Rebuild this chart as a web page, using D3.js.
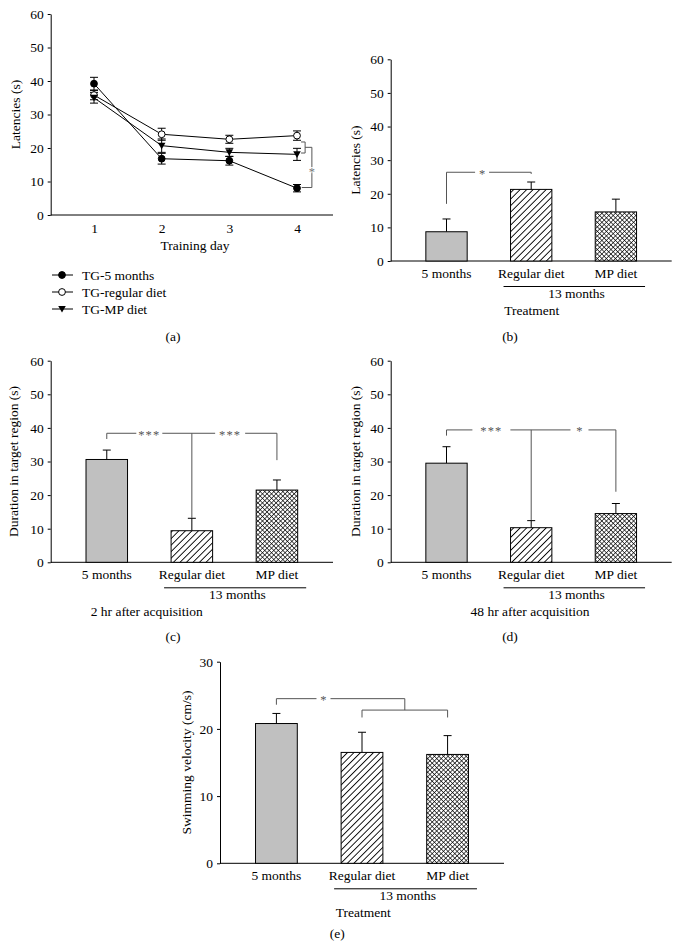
<!DOCTYPE html>
<html>
<head>
<meta charset="utf-8">
<script src="https://cdn.jsdelivr.net/npm/d3@7"></script>
<style>
  html, body { margin: 0; padding: 0; background: #fff; }
  svg { display: block; }
</style>
</head>
<body>
<svg id="chart" width="680" height="952"></svg>
<script>
// ---------------- DATA ----------------
const days = [1, 2, 3, 4];
const seriesNames = ["TG-5 months", "TG-regular diet", "TG-MP diet"];
const tg5Mean = [39.2, 16.8, 16.2, 8.0];
const tg5Err = [1.9, 1.6, 1.3, 1.1];
const tgRegMean = [35.8, 24.1, 22.6, 23.7];
const tgRegErr = [1.4, 1.8, 1.2, 1.4];
const tgMPMean = [35.0, 20.7, 18.7, 18.1];
const tgMPErr = [1.6, 2.0, 1.2, 1.8];

const groups = ["5 months", "Regular diet", "MP diet"];
const latencyMean = [8.7, 21.3, 14.6];
const latencyErr = [3.8, 2.2, 3.8];
const dur2hMean = [30.6, 9.4, 21.5];
const dur2hErr = [2.8, 3.7, 3.0];
const dur48hMean = [29.5, 10.3, 14.5];
const dur48hErr = [4.9, 2.1, 3.0];
const velocityMean = [20.8, 16.5, 16.2];
const velocityErr = [1.5, 3.0, 2.8];

const ticks60 = [0, 10, 20, 30, 40, 50, 60];
const ticks30 = [0, 10, 20, 30];

// ---------------- STYLE ----------------
const FONT = "'Liberation Serif', 'Times New Roman', serif";
const FS = 13.5;
const SIG = "#555";

const svg = d3.select("#chart");
svg.append("rect").attr("width", 680).attr("height", 952).attr("fill", "#fff");

const defs = svg.append("defs");
const hatch = defs.append("pattern").attr("id", "hatch")
  .attr("patternUnits", "userSpaceOnUse").attr("width", 4.6).attr("height", 4.6)
  .attr("patternTransform", "rotate(45)");
hatch.append("rect").attr("width", 4.6).attr("height", 4.6).attr("fill", "#fff");
hatch.append("line").attr("x1", 0).attr("y1", 0).attr("x2", 0).attr("y2", 4.6)
  .attr("stroke", "#000").attr("stroke-width", 1.8);
const cross = defs.append("pattern").attr("id", "cross")
  .attr("patternUnits", "userSpaceOnUse").attr("width", 3.2).attr("height", 3.2)
  .attr("patternTransform", "rotate(45)");
cross.append("rect").attr("width", 3.2).attr("height", 3.2).attr("fill", "#fff");
cross.append("line").attr("x1", 0).attr("y1", 0).attr("x2", 0).attr("y2", 3.2)
  .attr("stroke", "#000").attr("stroke-width", 1.3);
cross.append("line").attr("x1", 0).attr("y1", 0).attr("x2", 3.2).attr("y2", 0)
  .attr("stroke", "#000").attr("stroke-width", 1.3);
const fills = ["#c0c0c0", "url(#hatch)", "url(#cross)"];

function txt(g, x, y, s, anchor, size) {
  return g.append("text").attr("x", x).attr("y", y).text(s)
    .attr("font-family", FONT).attr("font-size", size || FS)
    .attr("text-anchor", anchor || "middle").attr("fill", "#000");
}

function yAxis(g, y, x0, tickVals) {
  const ax = d3.axisLeft(y).tickValues(tickVals).tickSize(3).tickSizeOuter(0).tickPadding(4);
  const a = g.append("g").attr("transform", `translate(${x0},0)`).call(ax);
  a.selectAll("text").attr("font-family", FONT).attr("font-size", FS).attr("fill", "#000");
  a.selectAll("line").attr("stroke", "#000");
  a.select(".domain").attr("stroke", "#000");
  return a;
}

function star(g, x, y, s, half, color) {
  g.append("rect").attr("x", x - half).attr("y", y - 3).attr("width", half * 2).attr("height", 6).attr("fill", "#fff");
  g.append("text").attr("x", x).attr("y", y + 5.5).text(s)
    .attr("font-family", FONT).attr("font-size", 12.5).attr("letter-spacing", s.length > 1 ? 1.2 : 0)
    .attr("text-anchor", "middle").attr("fill", color || SIG);
}

// ---------------- PANEL (a): line chart ----------------
(function () {
  const g = svg.append("g");
  const y = d3.scaleLinear().domain([0, 60]).range([215, 14]);
  const x = d3.scaleLinear().domain([1, 4]).range([94, 297]);
  const x0 = 50.7, x1 = 333;
  yAxis(g, y, x0, ticks60);
  g.append("line").attr("x1", x0).attr("x2", x1).attr("y1", y(0)).attr("y2", y(0)).attr("stroke", "#000");
  const xa = g.append("g").attr("transform", `translate(0,${y(0)})`)
    .call(d3.axisBottom(x).tickValues(days).tickSize(0).tickPadding(8).tickFormat(d3.format("d")));
  xa.select(".domain").remove();
  xa.selectAll("text").attr("font-family", FONT).attr("font-size", FS).attr("fill", "#000");

  const series = [
    { m: tg5Mean, e: tg5Err, shape: "filled" },
    { m: tgRegMean, e: tgRegErr, shape: "open" },
    { m: tgMPMean, e: tgMPErr, shape: "tri" }
  ];
  const line = d3.line().x((d, i) => x(days[i])).y(d => y(d));
  series.forEach(s => {
    g.append("path").attr("d", line(s.m)).attr("fill", "none").attr("stroke", "#000").attr("stroke-width", 1);
  });
  series.forEach(s => {
    s.m.forEach((v, i) => {
      const cx = x(days[i]);
      const lo = y(v - s.e[i]), hi = y(v + s.e[i]);
      g.append("line").attr("x1", cx).attr("x2", cx).attr("y1", lo).attr("y2", hi).attr("stroke", "#000");
      g.append("line").attr("x1", cx - 4).attr("x2", cx + 4).attr("y1", lo).attr("y2", lo).attr("stroke", "#000");
      g.append("line").attr("x1", cx - 4).attr("x2", cx + 4).attr("y1", hi).attr("y2", hi).attr("stroke", "#000");
    });
  });
  function marker(gg, shape, cx, cy) {
    if (shape === "tri") {
      gg.append("path").attr("d", `M${cx - 3.8},${cy - 3} L${cx + 3.8},${cy - 3} L${cx},${cy + 3.6} Z`).attr("fill", "#000");
    } else {
      gg.append("circle").attr("cx", cx).attr("cy", cy).attr("r", 3.4)
        .attr("fill", shape === "filled" ? "#000" : "#fff").attr("stroke", "#000").attr("stroke-width", 1);
    }
  }
  series.forEach(s => s.m.forEach((v, i) => marker(g, s.shape, x(days[i]), y(v))));

  // significance brackets
  const br1 = [[4.06, 21.8], [4.12, 21.8], [4.12, 18.5], [4.06, 18.5]];
  const br2 = [[4.12, 20.2], [4.22, 20.2], [4.22, 8.2], [4.07, 8.2]];
  const pl = d3.line().x(d => x(d[0])).y(d => y(d[1]));
  [br1, br2].forEach(b => g.append("path").attr("d", pl(b)).attr("fill", "none").attr("stroke", SIG).attr("stroke-width", 1));
  star(g, x(4.22), y(13.4), "*", 4, "#777");

  txt(g, 195, 250, "Training day");
  const ymid = (y(0) + y(60)) / 2;
  g.append("text").attr("transform", `translate(19.5,${ymid}) rotate(-90)`)
    .attr("text-anchor", "middle").attr("font-family", FONT).attr("font-size", FS).text("Latencies (s)");
  // legend
  const lg = g.append("g");
  const rows = [275, 292, 309];
  ["filled", "open", "tri"].forEach((sh, i) => {
    lg.append("line").attr("x1", 52).attr("x2", 73).attr("y1", rows[i]).attr("y2", rows[i]).attr("stroke", "#000");
    marker(lg, sh, 62, rows[i]);
    txt(lg, 82, rows[i] + 4.5, seriesNames[i], "start");
  });
  txt(g, 173, 340.5, "(a)");
})();

// ---------------- BAR PANELS ----------------
function barPanel(cfg) {
  const g = svg.append("g");
  const y = d3.scaleLinear().domain([0, cfg.max]).range([cfg.y0, cfg.yTop]);
  const x = d3.scaleBand().domain(groups).range([cfg.x0, cfg.x1]).paddingInner(0.512).paddingOuter(0.415);
  const bw = x.bandwidth();
  const cx = i => x(groups[i]) + bw / 2;
  const cxf = d3.scaleLinear().domain([0, 2]).range([cx(0), cx(2)]);

  yAxis(g, y, cfg.x0, cfg.ticks);
  g.append("line").attr("x1", cfg.x0).attr("x2", cfg.x1).attr("y1", y(0)).attr("y2", y(0)).attr("stroke", "#000");
  const xa = g.append("g").attr("transform", `translate(0,${y(0)})`)
    .call(d3.axisBottom(x).tickSize(0).tickPadding(7.5));
  xa.select(".domain").remove();
  xa.selectAll("text").attr("font-family", FONT).attr("font-size", FS).attr("fill", "#000");

  // error bars (upper only)
  cfg.mean.forEach((v, i) => {
    const top = y(v + cfg.err[i]);
    g.append("line").attr("x1", cx(i)).attr("x2", cx(i)).attr("y1", y(v)).attr("y2", top).attr("stroke", "#000");
    g.append("line").attr("x1", cx(i) - 4).attr("x2", cx(i) + 4).attr("y1", top).attr("y2", top).attr("stroke", "#000");
  });
  // bars
  g.selectAll(null).data(cfg.mean).enter().append("rect")
    .attr("x", (d, i) => x(groups[i])).attr("width", bw)
    .attr("y", d => y(d)).attr("height", d => y(0) - y(d))
    .attr("fill", (d, i) => fills[i]).attr("stroke", "#000").attr("stroke-width", 1);

  // significance
  const pl = d3.line().x(d => cxf(d[0])).y(d => y(d[1]));
  cfg.brackets.forEach(b => g.append("path").attr("d", pl(b)).attr("fill", "none").attr("stroke", SIG).attr("stroke-width", 1));
  cfg.stars.forEach(s => star(g, cxf(s[0]), y(s[1]), s[2], s[3]));

  // 13 months group label
  const ly = y(0) + 25.5;
  g.append("line").attr("x1", x(groups[1]) - 7).attr("x2", x(groups[2]) + bw + 8.5)
    .attr("y1", ly).attr("y2", ly).attr("stroke", "#000");
  txt(g, (cx(1) + cx(2)) / 2 + 3, y(0) + 36.5, "13 months");
  txt(g, cfg.subX, y(0) + 53.5, cfg.sub);
  const ymid = (y(0) + y(cfg.max)) / 2;
  g.append("text").attr("transform", `translate(${cfg.labX},${ymid}) rotate(-90)`)
    .attr("text-anchor", "middle").attr("font-family", FONT).attr("font-size", FS).text(cfg.ylabel);
  txt(g, cfg.letterX, cfg.letterY, cfg.letter);
}

barPanel({
  x0: 390.7, x1: 671.7, y0: 261, yTop: 59.3, max: 60, ticks: ticks60,
  mean: latencyMean, err: latencyErr, ylabel: "Latencies (s)", labX: 359.5,
  sub: "Treatment", subX: 531.7, letter: "(b)", letterX: 510, letterY: 340.5,
  brackets: [[[0, 17.0], [0, 26.4], [1, 26.4], [1, 25.9]]],
  stars: [[0.42, 26.4, "*", 7]]
});
barPanel({
  x0: 50.7, x1: 333, y0: 562.3, yTop: 360.7, max: 60, ticks: ticks60,
  mean: dur2hMean, err: dur2hErr, ylabel: "Duration in target region (s)", labX: 18,
  sub: "2 hr after acquisition", subX: 146.7, letter: "(c)", letterX: 173, letterY: 640.5,
  brackets: [[[0, 36.7], [0, 38.4], [2, 38.4], [2, 30.4]], [[1, 38.4], [1, 13.2]]],
  stars: [[0.5, 38.4, "***", 13], [1.45, 38.4, "***", 15]]
});
barPanel({
  x0: 390.7, x1: 671.7, y0: 562.3, yTop: 360.7, max: 60, ticks: ticks60,
  mean: dur48hMean, err: dur48hErr, ylabel: "Duration in target region (s)", labX: 359.5,
  sub: "48 hr after acquisition", subX: 530, letter: "(d)", letterX: 510, letterY: 640.5,
  brackets: [[[0, 37.7], [0, 39.4], [2, 39.4], [2, 21.0]], [[1, 39.4], [1, 12.6]]],
  stars: [[0.53, 39.4, "***", 19], [1.57, 39.4, "*", 9]]
});
barPanel({
  x0: 220, x1: 504, y0: 863.3, yTop: 661.7, max: 30, ticks: ticks30,
  mean: velocityMean, err: velocityErr, ylabel: "Swimming velocity (cm/s)", labX: 191,
  sub: "Treatment", subX: 363.3, letter: "(e)", letterX: 337.3, letterY: 937.5,
  brackets: [[[0, 23.6], [0, 24.5], [1.5, 24.5], [1.5, 22.8]], [[1, 21.7], [1, 22.8], [2, 22.8], [2, 21.7]]],
  stars: [[0.55, 24.5, "*", 7]]
});
</script>
</body>
</html>
